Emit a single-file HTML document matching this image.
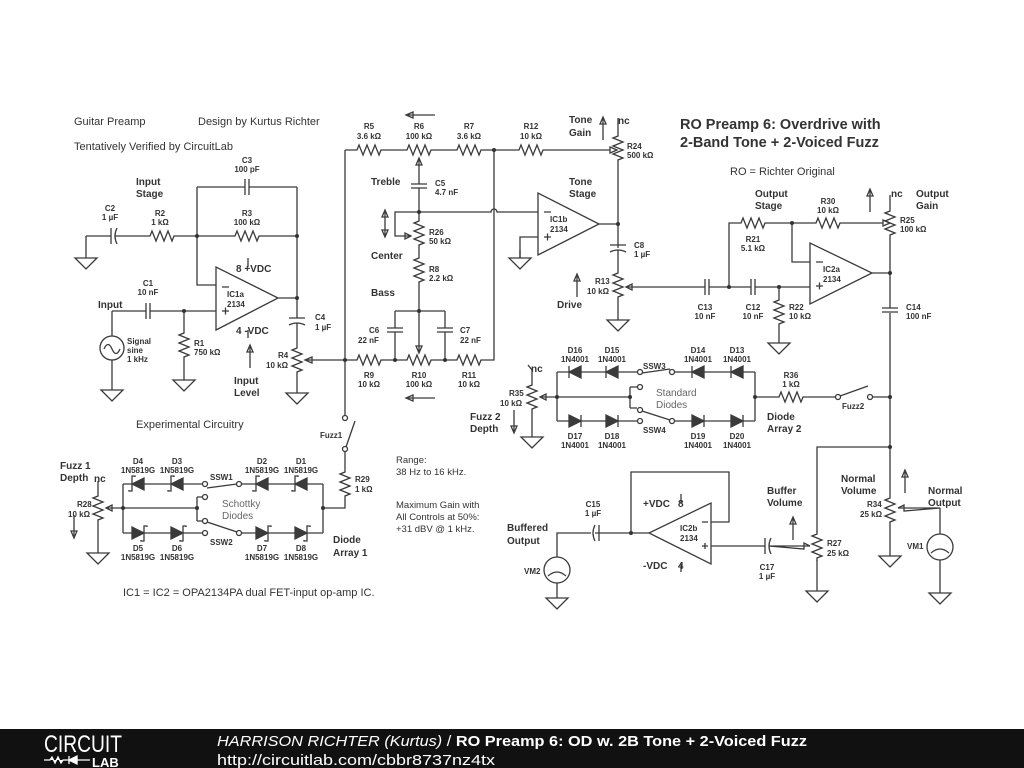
<!DOCTYPE html>
<html><head><meta charset="utf-8"><style>
html,body{margin:0;padding:0;background:#fff;}
svg{display:block;}
.w{stroke:#3a3a3a;stroke-width:1.3;fill:none;}
text{font-family:"Liberation Sans",sans-serif;fill:#333;stroke:none;}
.l{font-size:8px;font-weight:bold;}
.s{font-size:10px;font-weight:bold;}
.n{font-size:11px;}
.g{font-size:10px;fill:#666;}
.m{text-anchor:middle;}
</style></head><body>
<svg width="1024" height="768" viewBox="0 0 1024 768" xmlns="http://www.w3.org/2000/svg">
<defs>
<path id="rh" d="M-15,0h3l2,-5l4,10l4,-10l4,10l4,-10l4,10l2,-5h3"/>
<path id="rv" d="M0,-15v3l-5,2l10,4l-10,4l10,4l-10,4l10,4l-5,2v3"/>
<path id="ch" d="M-2,-8v16M2,-8v16"/>
<path id="cv" d="M-8,-2h16M-8,2h16"/>
<path id="gnd" d="M0,0v8M-11,8h22l-11,11z"/>
<g id="dl"><path d="M6,-6v12L-6,0z" fill="#3a3a3a"/><path d="M-6,-6v12"/></g>
<g id="dr"><path d="M-6,-6v12L6,0z" fill="#3a3a3a"/><path d="M6,-6v12"/></g>
<g id="sl"><path d="M6,-6v12L-6,0z" fill="#3a3a3a"/><path d="M-3,-7v-1h-3v15h-3v-1"/></g>
<g id="sr"><path d="M-6,-6v12L6,0z" fill="#3a3a3a"/><path d="M3,7v1h3v-15h3v1"/></g>
<path id="au" d="M0,0v-22M-3,-16l3,-7l3,7z" />
<path id="ad" d="M0,0v22M-3,16l3,7l3,-7z" />
<path id="al" d="M0,0h-28M-22,-3l-7,3l7,3z" />
</defs>
<g class="w">
<path d="M86,236h25M86,236v14M115,236h32M177,236h55M262,236h35M197,187h48M249,187h48M197,187v98h19M297,187v131M278,298h19"/>
<use href="#gnd" x="86" y="250"/>
<path d="M111,228v16M117,228q-4,8 0,16"/>
<use href="#rh" x="162" y="236"/><use href="#rh" x="247" y="236"/><use href="#ch" x="247" y="187"/>
<polygon points="216,267 216,330 278,298"/>
<path d="M248,267v-9M248,330v8M222,287h7M222,311h7M225.5,307.5v7"/>
<path d="M112,311h34M150,311h66M184,311v19M184,360v12M112,311v25M112,360v22"/>
<use href="#ch" x="148" y="311"/><use href="#rv" x="184" y="345"/><use href="#gnd" x="184" y="372"/>
<circle cx="112" cy="348" r="12"/><path d="M104,349q4,-9 8,0t8,0"/><use href="#gnd" x="112" y="382"/>
<path d="M289,318h16M289,325q8,-4 16,0M297,323v22M297,375v10"/>
<use href="#rv" x="297" y="360"/><use href="#gnd" x="297" y="385"/>
<path d="M345,360h-40M305,360l7,-3v6z"/>
<path d="M250,368v-22M247,352l3,-7l3,7z"/>
<path d="M345,150v265M345,150h9M384,150h20M434,150h20M484,150h32M546,150h64M610,147l7,3l-7,3z"/>
<use href="#rh" x="369" y="150"/><use href="#rh" x="419" y="150"/><use href="#rh" x="469" y="150"/><use href="#rh" x="531" y="150"/>
<use href="#rv" x="618" y="148"/><path d="M618,133v-15M618,163v85"/>
<path d="M419,158v26M416,165l3,-7l3,7z"/><use href="#cv" x="419" y="186"/><path d="M419,188v30M419,248v7M419,285v68M416,346l3,7l3,-7z"/>
<use href="#rv" x="419" y="233"/><use href="#rv" x="419" y="270"/>
<polygon points="538,193 538,255 599,224"/>
<path d="M544,212h7M544,237h7M547.5,233.5v7"/>
<path d="M538,212h-41a3,3 0 0 0 -6,0h-96v24h16M411,236l-6,-3v6z"/>
<path d="M538,237h-18v21"/><use href="#gnd" x="520" y="250"/>
<path d="M599,224h19"/><path d="M610,245h16M610,252q8,-4 16,0M618,250v20M618,300v12"/>
<use href="#rv" x="618" y="285"/><use href="#gnd" x="618" y="312"/>
<path d="M395,311h50M395,311v17M395,332v28M445,311v17M445,332v28"/>
<use href="#cv" x="395" y="330"/><use href="#cv" x="445" y="330"/>
<path d="M345,360h9M384,360h20M434,360h20M484,360h10V150"/>
<use href="#rh" x="369" y="360"/><use href="#rh" x="419" y="360"/><use href="#rh" x="469" y="360"/>
<use href="#al" x="435" y="115"/><use href="#al" x="435" y="398"/>
<path d="M385,210v27M382,217l3,-7l3,7zM382,230l3,7l3,-7z"/>
<use href="#au" x="603" y="140"/><use href="#au" x="577" y="297"/>
<path d="M626,287h79M709,287h42M755,287h55M626,287l6,-3v6zM779,287v10M779,327v8"/>
<use href="#ch" x="707" y="287"/><use href="#ch" x="753" y="287"/><use href="#rv" x="779" y="312"/><use href="#gnd" x="779" y="335"/>
<path d="M729,287v-64h9M768,223h45M843,223h40M883,220l7,3l-7,3zM792,223v39h18"/>
<use href="#rh" x="753" y="223"/><use href="#rh" x="828" y="223"/><use href="#rv" x="890" y="223"/>
<path d="M890,208v-13M890,238v70M890,313v182M872,273h18"/>
<polygon points="810,243 810,304 872,273"/>
<path d="M816,262h7M816,286h7M819.5,282.5v7"/>
<use href="#cv" x="890" y="310"/>
<use href="#au" x="870" y="212"/>
<path d="M755,397h21M806,397h29M873,397h17"/><use href="#rh" x="791" y="397"/>
<circle cx="838" cy="397" r="2.5"/><circle cx="870" cy="397" r="2.5"/><path d="M840,396l28,-10"/>
<path d="M557,372v49M755,372v49M557,372h80M675,372h80M557,421h80M675,421h80M540,397h90M630,387v21M630,387h7M630,408h7"/>
<use href="#dl" x="575" y="372"/><use href="#dl" x="612" y="372"/><use href="#dl" x="698" y="372"/><use href="#dl" x="737" y="372"/>
<use href="#dr" x="575" y="421"/><use href="#dr" x="612" y="421"/><use href="#dr" x="698" y="421"/><use href="#dr" x="737" y="421"/>
<circle cx="640" cy="372" r="2.5" fill="#fff"/><circle cx="672" cy="372" r="2.5" fill="#fff"/><path d="M642,373l28,-4"/>
<circle cx="640" cy="387" r="2.5" fill="#fff"/><circle cx="640" cy="410" r="2.5" fill="#fff"/>
<circle cx="672" cy="421" r="2.5" fill="#fff"/><circle cx="640" cy="421" r="2.5" fill="#fff"/><path d="M642,411l28,9"/>
<use href="#rv" x="532" y="397"/><path d="M532,382v-12l-4,-5M532,412v17M540,397l6,-3v6z"/><use href="#gnd" x="532" y="429"/>
<use href="#ad" x="514" y="410"/>
<path d="M890,447h-73v85M817,560v23"/><use href="#rv" x="817" y="546"/><use href="#gnd" x="817" y="583"/>
<path d="M890,525v23"/><use href="#rv" x="890" y="510"/><use href="#gnd" x="890" y="548"/>
<path d="M940,508h-42l6,-3v6zM940,508v26M940,560v25"/><use href="#gnd" x="940" y="585"/>
<circle cx="940" cy="547" r="13"/><path d="M931,553q9,-8 18,0"/>
<use href="#au" x="905" y="493"/>
<polygon points="711,503 711,564 649,533"/>
<path d="M681,503v-9M681,564v8M702,522h6M702,546h6M705,543v6"/>
<path d="M711,522h18v-50h-98v61h18M631,533h-36M591,533h-34v24M557,583v7"/>
<path d="M595,525q-4,8 0,16M599,525v16"/>
<circle cx="557" cy="570" r="13"/><path d="M548,576q9,-8 18,0"/><use href="#gnd" x="557" y="590"/>
<path d="M711,546h54M769,546h41l-6,-3v6z"/><path d="M765,538v16M771,538q-4,8 0,16"/>
<use href="#au" x="793" y="540"/>
<path d="M123,484v49M323,484v49M123,484h80M241,484h82M123,533h80M241,533h82M106,508h91M197,497v24M197,497h6M197,521h6M323,508h22v-9M345,469v-19"/>
<use href="#sl" x="138" y="484"/><use href="#sl" x="177" y="484"/><use href="#sl" x="262" y="484"/><use href="#sl" x="301" y="484"/>
<use href="#sr" x="138" y="533"/><use href="#sr" x="177" y="533"/><use href="#sr" x="262" y="533"/><use href="#sr" x="301" y="533"/>
<circle cx="205" cy="484" r="2.5" fill="#fff"/><circle cx="239" cy="484" r="2.5" fill="#fff"/><path d="M207,488l30,-4"/>
<circle cx="205" cy="497" r="2.5" fill="#fff"/><circle cx="205" cy="521" r="2.5" fill="#fff"/>
<circle cx="205" cy="533" r="2.5" fill="#fff"/><circle cx="239" cy="533" r="2.5" fill="#fff"/><path d="M207,522l30,10"/>
<use href="#rv" x="98" y="508"/><path d="M98,493v-12M98,523v22M106,508l6,-3v6z"/><use href="#gnd" x="98" y="545"/>
<use href="#ad" x="74" y="515"/>
<use href="#rv" x="345" y="484"/>
<circle cx="345" cy="418" r="2.5" fill="#fff"/><circle cx="345" cy="449" r="2.5" fill="#fff"/><path d="M346,447l9,-26"/>
</g>
<g fill="#333">
<circle cx="197" cy="236" r="2"/><circle cx="297" cy="236" r="2"/><circle cx="297" cy="298" r="2"/><circle cx="184" cy="311" r="2"/>
<circle cx="345" cy="360" r="2"/><circle cx="494" cy="150" r="2"/><circle cx="419" cy="212" r="2"/><circle cx="419" cy="311" r="2"/>
<circle cx="395" cy="360" r="2"/><circle cx="445" cy="360" r="2"/><circle cx="618" cy="224" r="2"/><circle cx="729" cy="287" r="2"/>
<circle cx="779" cy="287" r="2"/><circle cx="792" cy="223" r="2"/><circle cx="890" cy="273" r="2"/><circle cx="890" cy="397" r="2"/>
<circle cx="890" cy="447" r="2"/><circle cx="557" cy="397" r="2"/><circle cx="630" cy="397" r="2"/><circle cx="755" cy="397" r="2"/>
<circle cx="631" cy="533" r="2"/><circle cx="123" cy="508" r="2"/><circle cx="197" cy="508" r="2"/><circle cx="323" cy="508" r="2"/>
</g>
<text class="n" x="74" y="125">Guitar Preamp</text>
<text class="n" x="198" y="125">Design by Kurtus Richter</text>
<text class="n" x="74" y="150">Tentatively Verified by CircuitLab</text>
<text class="l m" x="247" y="163">C3</text><text class="l m" x="247" y="172">100 pF</text>
<text class="s" x="136" y="185">Input</text><text class="s" x="136" y="197">Stage</text>
<text class="l m" x="110" y="211">C2</text><text class="l m" x="110" y="220">1 µF</text>
<text class="l m" x="160" y="216">R2</text><text class="l m" x="160" y="225">1 kΩ</text>
<text class="l m" x="247" y="216">R3</text><text class="l m" x="247" y="225">100 kΩ</text>
<text class="s" x="236" y="272">8  +VDC</text><text class="s" x="236" y="334">4  -VDC</text>
<text class="l" x="227" y="297">IC1a</text><text class="l" x="227" y="307">2134</text>
<text class="l m" x="148" y="286">C1</text><text class="l m" x="148" y="295">10 nF</text>
<text class="s" x="98" y="308">Input</text>
<text class="l" x="127" y="344">Signal</text><text class="l" x="127" y="353">sine</text><text class="l" x="127" y="362">1 kHz</text>
<text class="l" x="194" y="346">R1</text><text class="l" x="194" y="355">750 kΩ</text>
<text class="l" x="315" y="320">C4</text><text class="l" x="315" y="330">1 µF</text>
<text class="l" x="278" y="358">R4</text><text class="l" x="266" y="368">10 kΩ</text>
<text class="s" x="234" y="384">Input</text><text class="s" x="234" y="396">Level</text>
<text class="l m" x="369" y="129">R5</text><text class="l m" x="369" y="139">3.6 kΩ</text>
<text class="l m" x="419" y="129">R6</text><text class="l m" x="419" y="139">100 kΩ</text>
<text class="l m" x="469" y="129">R7</text><text class="l m" x="469" y="139">3.6 kΩ</text>
<text class="l m" x="531" y="129">R12</text><text class="l m" x="531" y="139">10 kΩ</text>
<text class="s" x="569" y="123">Tone</text><text class="s" x="569" y="136">Gain</text>
<text class="s" x="618" y="124">nc</text>
<text class="l" x="627" y="149">R24</text><text class="l" x="627" y="158">500 kΩ</text>
<text class="s" x="371" y="185">Treble</text>
<text class="l" x="435" y="186">C5</text><text class="l" x="435" y="195">4.7 nF</text>
<text class="l" x="429" y="235">R26</text><text class="l" x="429" y="244">50 kΩ</text>
<text class="s" x="371" y="259">Center</text>
<text class="l" x="429" y="272">R8</text><text class="l" x="429" y="281">2.2 kΩ</text>
<text class="s" x="371" y="296">Bass</text>
<text class="l" x="369" y="333">C6</text><text class="l" x="358" y="343">22 nF</text>
<text class="l" x="460" y="333">C7</text><text class="l" x="460" y="343">22 nF</text>
<text class="l m" x="369" y="378">R9</text><text class="l m" x="369" y="387">10 kΩ</text>
<text class="l m" x="419" y="378">R10</text><text class="l m" x="419" y="387">100 kΩ</text>
<text class="l m" x="469" y="378">R11</text><text class="l m" x="469" y="387">10 kΩ</text>
<text class="s" x="569" y="185">Tone</text><text class="s" x="569" y="197">Stage</text>
<text class="l" x="550" y="222">IC1b</text><text class="l" x="550" y="232">2134</text>
<text class="l" x="634" y="248">C8</text><text class="l" x="634" y="257">1 µF</text>
<text class="l" x="595" y="284">R13</text><text class="l" x="587" y="294">10 kΩ</text>
<text class="s" x="557" y="308">Drive</text>
<text x="680" y="129" style="font-size:14.5px;font-weight:bold">RO Preamp 6: Overdrive with</text>
<text x="680" y="147" style="font-size:14.5px;font-weight:bold">2-Band Tone + 2-Voiced Fuzz</text>
<text class="n" x="730" y="175">RO = Richter Original</text>
<text class="s" x="755" y="197">Output</text><text class="s" x="755" y="209">Stage</text>
<text class="l m" x="828" y="204">R30</text><text class="l m" x="828" y="213">10 kΩ</text>
<text class="s" x="891" y="197">nc</text>
<text class="s" x="916" y="197">Output</text><text class="s" x="916" y="209">Gain</text>
<text class="l" x="900" y="223">R25</text><text class="l" x="900" y="232">100 kΩ</text>
<text class="l m" x="753" y="242">R21</text><text class="l m" x="753" y="251">5.1 kΩ</text>
<text class="l" x="823" y="272">IC2a</text><text class="l" x="823" y="282">2134</text>
<text class="l m" x="705" y="310">C13</text><text class="l m" x="705" y="319">10 nF</text>
<text class="l m" x="753" y="310">C12</text><text class="l m" x="753" y="319">10 nF</text>
<text class="l" x="789" y="310">R22</text><text class="l" x="789" y="319">10 kΩ</text>
<text class="l" x="906" y="310">C14</text><text class="l" x="906" y="319">100 nF</text>
<text class="l m" x="575" y="353">D16</text><text class="l m" x="575" y="362">1N4001</text>
<text class="l m" x="612" y="353">D15</text><text class="l m" x="612" y="362">1N4001</text>
<text class="l m" x="698" y="353">D14</text><text class="l m" x="698" y="362">1N4001</text>
<text class="l m" x="737" y="353">D13</text><text class="l m" x="737" y="362">1N4001</text>
<text class="l" x="643" y="369">SSW3</text><text class="l" x="643" y="433">SSW4</text>
<text class="g" x="656" y="396">Standard</text><text class="g" x="656" y="408">Diodes</text>
<text class="l m" x="575" y="439">D17</text><text class="l m" x="575" y="448">1N4001</text>
<text class="l m" x="612" y="439">D18</text><text class="l m" x="612" y="448">1N4001</text>
<text class="l m" x="698" y="439">D19</text><text class="l m" x="698" y="448">1N4001</text>
<text class="l m" x="737" y="439">D20</text><text class="l m" x="737" y="448">1N4001</text>
<text class="s" x="531" y="372">nc</text>
<text class="l" x="509" y="396">R35</text><text class="l" x="500" y="406">10 kΩ</text>
<text class="s" x="470" y="420">Fuzz 2</text><text class="s" x="470" y="432">Depth</text>
<text class="l m" x="791" y="378">R36</text><text class="l m" x="791" y="387">1 kΩ</text>
<text class="l" x="842" y="409">Fuzz2</text>
<text class="s" x="767" y="420">Diode</text><text class="s" x="767" y="432">Array 2</text>
<text class="s" x="767" y="494">Buffer</text><text class="s" x="767" y="506">Volume</text>
<text class="s" x="841" y="482">Normal</text><text class="s" x="841" y="494">Volume</text>
<text class="s" x="928" y="494">Normal</text><text class="s" x="928" y="506">Output</text>
<text class="l" x="867" y="507">R34</text><text class="l" x="860" y="517">25 kΩ</text>
<text class="l" x="827" y="546">R27</text><text class="l" x="827" y="556">25 kΩ</text>
<text class="l" x="907" y="549">VM1</text>
<text class="s" x="643" y="507">+VDC</text><text class="s" x="678" y="507">8</text>
<text class="s" x="643" y="569">-VDC</text><text class="s" x="678" y="569">4</text>
<text class="l" x="680" y="531">IC2b</text><text class="l" x="680" y="541">2134</text>
<text class="l m" x="593" y="507">C15</text><text class="l m" x="593" y="516">1 µF</text>
<text class="s" x="507" y="531">Buffered</text><text class="s" x="507" y="544">Output</text>
<text class="l" x="524" y="574">VM2</text>
<text class="l m" x="767" y="570">C17</text><text class="l m" x="767" y="579">1 µF</text>
<text class="n" x="136" y="428">Experimental Circuitry</text>
<text class="l" x="320" y="438">Fuzz1</text>
<text class="s" x="60" y="469">Fuzz 1</text><text class="s" x="60" y="481">Depth</text><text class="s" x="94" y="482">nc</text>
<text class="l" x="77" y="507">R28</text><text class="l" x="68" y="517">10 kΩ</text>
<text class="l m" x="138" y="464">D4</text><text class="l m" x="138" y="473">1N5819G</text>
<text class="l m" x="177" y="464">D3</text><text class="l m" x="177" y="473">1N5819G</text>
<text class="l m" x="262" y="464">D2</text><text class="l m" x="262" y="473">1N5819G</text>
<text class="l m" x="301" y="464">D1</text><text class="l m" x="301" y="473">1N5819G</text>
<text class="l" x="210" y="480">SSW1</text><text class="l" x="210" y="545">SSW2</text>
<text class="g" x="222" y="507">Schottky</text><text class="g" x="222" y="519">Diodes</text>
<text class="l m" x="138" y="551">D5</text><text class="l m" x="138" y="560">1N5819G</text>
<text class="l m" x="177" y="551">D6</text><text class="l m" x="177" y="560">1N5819G</text>
<text class="l m" x="262" y="551">D7</text><text class="l m" x="262" y="560">1N5819G</text>
<text class="l m" x="301" y="551">D8</text><text class="l m" x="301" y="560">1N5819G</text>
<text class="s" x="333" y="543">Diode</text><text class="s" x="333" y="556">Array 1</text>
<text class="l" x="355" y="482">R29</text><text class="l" x="355" y="492">1 kΩ</text>
<text x="396" y="463" style="font-size:9.5px">Range:</text><text x="396" y="475" style="font-size:9.5px">38 Hz to 16 kHz.</text>
<text x="396" y="508" style="font-size:9.5px">Maximum Gain with</text><text x="396" y="520" style="font-size:9.5px">All Controls at 50%:</text><text x="396" y="532" style="font-size:9.5px">+31 dBV @ 1 kHz.</text>
<text class="n" x="123" y="596">IC1 = IC2 = OPA2134PA dual FET-input op-amp IC.</text>
<rect x="0" y="729" width="1024" height="39" fill="#111"/>
<text x="44" y="752" style="font-size:24px;fill:#fff;font-weight:normal" textLength="78" lengthAdjust="spacingAndGlyphs">CIRCUIT</text>
<path d="M44,760h6l2,-3l3,6l3,-6l3,6l2,-3h6v-4v8v-4l8,-4v8l-8,-4M76,760h14" stroke="#fff" stroke-width="1.3" fill="#fff"/>
<text x="92" y="767" style="font-size:13px;fill:#fff;font-weight:bold">LAB</text>
<text x="217" y="746" style="font-size:15px;fill:#fff" textLength="590" lengthAdjust="spacingAndGlyphs"><tspan font-style="italic">HARRISON RICHTER (Kurtus)</tspan> / <tspan font-weight="bold">RO Preamp 6: OD w. 2B Tone + 2-Voiced Fuzz</tspan></text>
<text x="217" y="765" style="font-size:15px;fill:#fff" textLength="278" lengthAdjust="spacingAndGlyphs">http://circuitlab.com/cbbr8737nz4tx</text>
</svg>
</body></html>
